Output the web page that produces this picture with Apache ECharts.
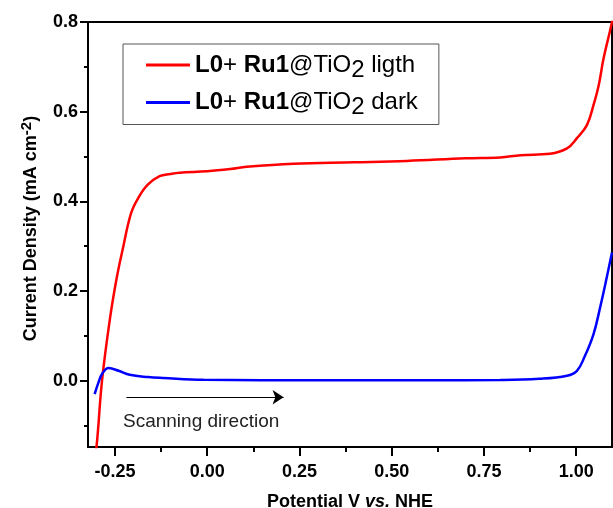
<!DOCTYPE html>
<html>
<head>
<meta charset="utf-8">
<script src="https://cdn.jsdelivr.net/npm/echarts@6/dist/echarts.min.js"></script>
<style>
  html, body { margin: 0; padding: 0; background: #fff; }
  #chart { width: 613px; height: 508px; }
</style>
</head>
<body>
<div id="chart"></div>
<script>
// potential (V vs NHE), current density (mA cm-2)
var lightX = [-0.31, -0.300, -0.285, -0.263, -0.245, -0.230, -0.206, -0.185, -0.161, -0.129, -0.100, -0.075, 0.000, 0.063, 0.107, 0.234, 0.400, 0.541, 0.700, 0.794, 0.849, 0.929, 0.975, 1.002, 1.029, 1.047, 1.061, 1.074, 1.097, 1.100];
var lightY = [-0.20, -0.148, 0.000, 0.141, 0.230, 0.289, 0.374, 0.410, 0.437, 0.456, 0.461, 0.464, 0.467, 0.472, 0.477, 0.484, 0.487, 0.490, 0.496, 0.498, 0.503, 0.506, 0.518, 0.541, 0.570, 0.615, 0.659, 0.718, 0.800, 0.820];
var darkX = [-0.305, -0.295, -0.285, -0.267, -0.240, -0.210, -0.160, -0.120, -0.010, 0.300, 0.600, 0.794, 0.900, 0.975, 1.002, 1.022, 1.047, 1.065, 1.083, 1.097];
var darkY = [-0.030, -0.005, 0.015, 0.028, 0.022, 0.013, 0.008, 0.006, 0.002, 0.001, 0.001, 0.0015, 0.004, 0.011, 0.022, 0.052, 0.104, 0.164, 0.231, 0.286];

var xTicks = [-0.25, 0, 0.25, 0.5, 0.75, 1.0];
var xMinor = [-0.125, 0.125, 0.375, 0.625, 0.875];
var yTicks = [0, 0.2, 0.4, 0.6, 0.8];
var yMinor = [-0.1, 0.1, 0.3, 0.5, 0.7];

var names = ['light', 'dark'];
var legendText = {
  light: '{b|L0}{n|+ }{b|Ru1}{n|@TiO}{s|2}{n| ligth}',
  dark: '{b|L0}{n|+ }{b|Ru1}{n|@TiO}{s|2}{n| dark}'
};

function zip(xs, ys) {
  return xs.map(function (x, i) { return [x, ys[i]]; });
}

var FONT = 'Liberation Sans, Arial, sans-serif';
var xMin = -0.323, xMax = 1.097, yMin = -0.148, yMax = 0.8;

var chart = echarts.init(document.getElementById('chart'));
var option = {
  animation: false,
  backgroundColor: '#fff',
  grid: { left: 88, right: 1, top: 22, bottom: 61, outerBoundsMode: 'none', containLabel: false,
    show: true, borderColor: '#000', borderWidth: 2, backgroundColor: 'transparent' },
  legend: {
    data: names,
    orient: 'vertical',
    left: 123, top: 44,
    padding: [9, 21, 5, 23],
    itemGap: 8.5,
    icon: 'rect',
    itemWidth: 44, itemHeight: 3,
    borderColor: '#555', borderWidth: 1,
    formatter: function (n) { return legendText[n]; },
    textStyle: {
      fontFamily: FONT, color: '#000',
      rich: {
        b: { fontSize: 24, fontWeight: 'bold', fontFamily: FONT, color: '#000' },
        n: { fontSize: 24, fontFamily: FONT, color: '#000' },
        s: { fontSize: 24, fontFamily: FONT, color: '#000', padding: [10, 0, 0, 0] }
      }
    }
  },
  xAxis: [{
    type: 'value', min: xMin, max: xMax, position: 'bottom',
    name: '{a|Potential V }{i|vs.}{a| NHE}', nameLocation: 'middle', nameGap: 46,
    nameTextStyle: {
      rich: {
        a: { fontSize: 18, fontWeight: 'bold', fontFamily: FONT, color: '#000' },
        i: { fontSize: 18, fontWeight: 'bold', fontStyle: 'italic', fontFamily: FONT, color: '#000' }
      }
    },
    axisLine: { show: true, onZero: false, lineStyle: { color: '#000', width: 2 } },
    axisTick: { show: true, inside: false, length: 9, lineStyle: { color: '#000', width: 2 }, customValues: xTicks },
    axisLabel: { customValues: xTicks, margin: 16, fontSize: 18, fontWeight: 'bold', fontFamily: FONT, color: '#000',
      formatter: function (v) { return v.toFixed(2); } },
    splitLine: { show: false }
  }, {
    type: 'value', min: xMin, max: xMax, position: 'bottom',
    axisLine: { show: false, onZero: false },
    axisTick: { show: true, length: 5, lineStyle: { color: '#000', width: 2 }, customValues: xMinor },
    axisLabel: { show: false },
    splitLine: { show: false }
  }],
  yAxis: [{
    type: 'value', min: yMin, max: yMax, position: 'left',
    name: '{a|Current Density (mA cm}{p|-2}{a|)}', nameLocation: 'middle', nameGap: 44, nameRotate: 90,
    nameTextStyle: {
      padding: [0, 0, 0, 12],
      rich: {
        a: { fontSize: 18, fontWeight: 'bold', fontFamily: FONT, color: '#000' },
        p: { fontSize: 15, fontWeight: 'bold', fontFamily: FONT, color: '#000', padding: [0, 0, 10, 0] }
      }
    },
    axisLine: { show: true, onZero: false, lineStyle: { color: '#000', width: 2 } },
    axisTick: { show: true, length: 8, lineStyle: { color: '#000', width: 2 }, customValues: yTicks },
    axisLabel: { customValues: yTicks, margin: 10, fontSize: 18, fontWeight: 'bold', fontFamily: FONT, color: '#000',
      formatter: function (v) { return v.toFixed(1); } },
    splitLine: { show: false }
  }, {
    type: 'value', min: yMin, max: yMax, position: 'left',
    axisLine: { show: false, onZero: false },
    axisTick: { show: true, length: 4, lineStyle: { color: '#000', width: 2 }, customValues: yMinor },
    axisLabel: { show: false },
    splitLine: { show: false }
  }],
  graphic: [{
    type: 'text', left: 123, top: 412,
    style: { text: 'Scanning direction', fontSize: 19, fontFamily: FONT, fill: '#222' }
  }],
  series: [{
    name: 'light', type: 'line', data: zip(lightX, lightY),
    smooth: 0.4, symbol: 'none',
    lineStyle: { color: '#ff0000', width: 2.5 }, itemStyle: { color: '#ff0000' }
  }, {
    name: 'dark', type: 'line', data: zip(darkX, darkY),
    smooth: 0.4, symbol: 'none',
    lineStyle: { color: '#0000ff', width: 2.5 }, itemStyle: { color: '#0000ff' },
    markLine: {
      silent: true, symbol: ['none', 'arrow'], symbolSize: 11,
      label: { show: false },
      lineStyle: { color: '#000', width: 1, type: 'solid' },
      data: [[{ coord: [-0.219, -0.037] }, { coord: [0.207, -0.037] }]]
    }
  }]
};
chart.setOption(option);
</script>
</body>
</html>
